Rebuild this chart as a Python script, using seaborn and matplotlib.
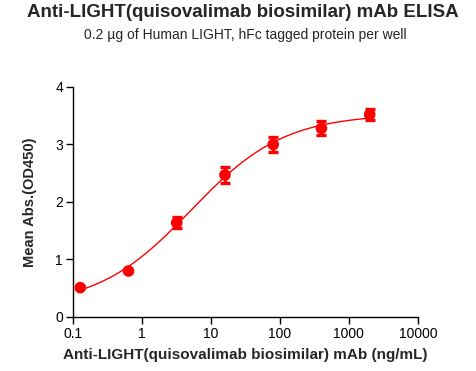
import matplotlib
matplotlib.use("Agg")
import matplotlib.pyplot as plt
import numpy as np
import seaborn as sns

# antibody concentration (ng/mL), mean OD450 and SD
conc = [0.128, 0.64, 3.2, 16, 80, 400, 2000]
od450 = [0.51, 0.80, 1.64, 2.47, 3.00, 3.28, 3.52]
sd = [0.01, 0.01, 0.10, 0.14, 0.13, 0.12, 0.10]

title = "Anti-LIGHT(quisovalimab biosimilar) mAb ELISA"
subtitle = "0.2 \u00b5g of Human LIGHT, hFc tagged protein per well"
x_label = "Anti-LIGHT(quisovalimab biosimilar) mAb (ng/mL)"
y_label = "Mean Abs.(OD450)"
x_ticks = [0.1, 1, 10, 100, 1000, 10000]
x_tick_labels = ["0.1", "1", "10", "100", "1000", "10000"]
y_ticks = [0, 1, 2, 3, 4]


def fit_4pl(x, y):
    # grid over ec50/hill, bottom and top solved by linear least squares
    x = np.asarray(x, float)
    y = np.asarray(y, float)
    best = None
    for log_ec50 in np.linspace(-1, 3, 401):
        for hill in np.linspace(0.3, 2.0, 171):
            f = 1 / (1 + (10 ** log_ec50 / x) ** hill)
            A = np.column_stack([1 - f, f])
            coef, *_ = np.linalg.lstsq(A, y, rcond=None)
            err = np.sum((A @ coef - y) ** 2)
            if best is None or err < best[0]:
                best = (err, coef[0], coef[1], 10 ** log_ec50, hill)
    return best[1:]


def four_pl(x, bottom, top, ec50, hill):
    return bottom + (top - bottom) / (1 + (ec50 / x) ** hill)


def main():
    sns.set_theme(style="ticks")
    plt.rcParams["font.family"] = ["Liberation Sans", "DejaVu Sans"]

    fig = plt.figure(figsize=(4.76, 3.71), dpi=100)
    ax = fig.add_axes([0.153, 0.1456, 0.725, 0.62])

    bottom, top, ec50, hill = fit_4pl(conc, od450)
    xs = np.logspace(np.log10(conc[0]), np.log10(conc[-1]), 300)
    sns.lineplot(x=xs, y=four_pl(xs, bottom, top, ec50, hill), color="#ff0000",
                 linewidth=1.0, ax=ax)
    ax.errorbar(conc, od450, yerr=sd, fmt="none", ecolor="#ff0000",
                elinewidth=2.4, capsize=3.5, capthick=2.4)
    sns.scatterplot(x=conc, y=od450, color="#ff0000", s=70, edgecolor="none",
                    ax=ax, zorder=3)

    ax.set_xscale("log")
    ax.set_xlim(0.1, 10000)
    ax.set_ylim(0, 4)
    ax.set_xticks(x_ticks)
    ax.set_xticklabels(x_tick_labels)
    ax.xaxis.set_minor_locator(matplotlib.ticker.NullLocator())
    ax.set_yticks(y_ticks)
    ax.tick_params(axis="both", direction="out", length=5, width=1,
                   labelsize=10, colors="black", pad=2)
    sns.despine(ax=ax)
    for side in ["left", "bottom"]:
        ax.spines[side].set_color("black")
        ax.spines[side].set_linewidth(1)

    ax.set_xlabel(x_label, fontsize=11, fontweight="bold", labelpad=5)
    ax.set_ylabel(y_label, fontsize=10.5, fontweight="bold", labelpad=13)
    fig.text(0.51, 0.967, title, ha="center", va="center", fontsize=13.5,
             fontweight="bold")
    fig.text(0.515, 0.905, subtitle, ha="center", va="center", fontsize=10)

    fig.savefig("out.png", dpi=100)
    plt.close(fig)


if __name__ == "__main__":
    main()
